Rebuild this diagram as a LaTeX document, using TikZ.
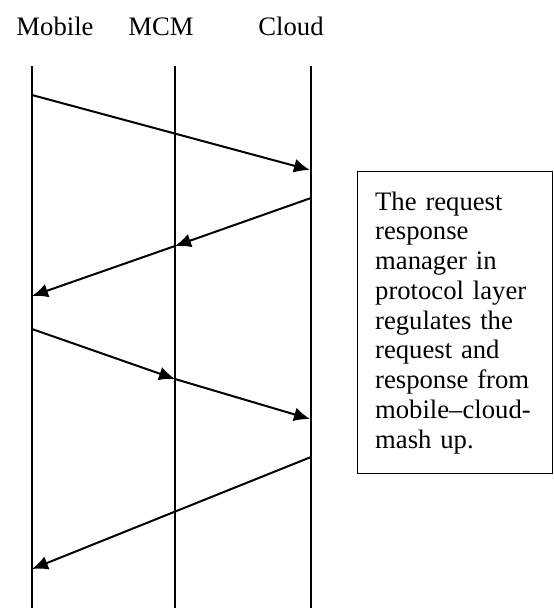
\documentclass[tikz,border=0pt]{standalone}
\usepackage{fontspec}
\setmainfont{Liberation Serif}
\usetikzlibrary{positioning}
\usetikzlibrary{arrows.meta}
\tikzset{
    lbl/.style = {anchor=base, inner sep=0, font=\fontsize{20}{22.3}\selectfont},
    lifeline/.style = {-, line width=1pt, black},
    msg/.style = {-{Latex[length=12pt,width=10.5pt]}, line width=1.5pt, black},
    notebox/.style = {draw=black, line width=1pt, anchor=north west, align=left,
        text width=120pt, inner xsep=13.125pt, inner ysep=0pt,
        minimum width=146.25pt, minimum height=226.5pt,
        font=\fontsize{20}{22.3}\selectfont}
}

\begin{document}
\begin{tikzpicture}[x=0.75pt,y=-0.75pt]
\useasboundingbox (0,0) rectangle (554,608);

\node[lbl] at ( 55, 35) (mob) {Mobile};
\node[lbl] at (161, 35) (mcm) {MCM};
\node[lbl] at (291, 35) (cld) {Cloud};

% lifelines
\coordinate (mobtop) at ( 32, 66); \coordinate (mobbot) at ( 32,608);
\coordinate (mcmtop) at (175, 66); \coordinate (mcmbot) at (175,608);
\coordinate (cldtop) at (311, 66); \coordinate (cldbot) at (311,608);
\draw[lifeline] (mobtop) -- (mobbot);
\draw[lifeline] (mcmtop) -- (mcmbot);
\draw[lifeline] (cldtop) -- (cldbot);

% messages
\coordinate (a1) at ( 32, 95);  \coordinate (a2) at (310,170);
\coordinate (b1) at (311,198);  \coordinate (b2) at (175,246);  \coordinate (b3) at ( 32,296);
\coordinate (c1) at ( 32,329);  \coordinate (c2) at (175,379);  \coordinate (c3) at (310,419);
\coordinate (d1) at (311,457);  \coordinate (d2) at ( 32,569);

\draw[msg] (a1) -- (a2);
\draw[msg] (b1) -- (b2);
\draw[msg] (b2) -- (b3);
\draw[msg] (c1) -- (c2);
\draw[msg] (c2) -- (c3);
\draw[msg] (d1) -- (d2);

\node[notebox] at (357,171) (note) {The request\\response\\manager in\\protocol layer\\regulates the\\request and\\response from\\mobile--cloud-\\mash up.};

\end{tikzpicture}
\end{document}
